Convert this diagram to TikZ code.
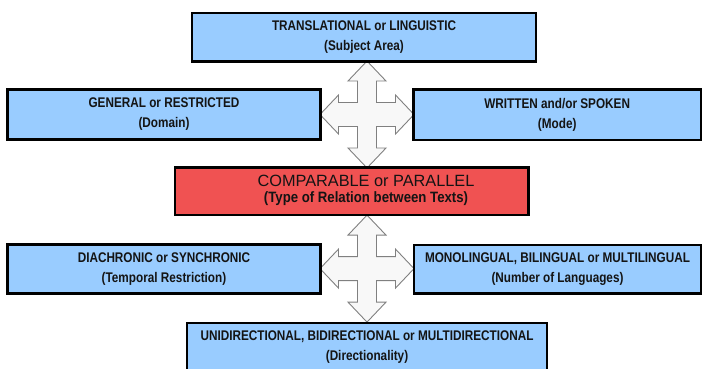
\documentclass[tikz,border=0pt]{standalone}
\usepackage{fontspec}
\setmainfont{Liberation Sans}
\newfontfamily\condfont[FakeStretch=0.84]{Liberation Sans}
\newfontfamily\condfontb[FakeStretch=0.88]{Liberation Sans}
\definecolor{boxblue}{RGB}{153,204,255}
\definecolor{boxred}{RGB}{240,82,82}
\definecolor{inkdark}{RGB}{20,20,20}
\definecolor{arrowfill}{RGB}{248,248,248}
\definecolor{arrowline}{RGB}{128,128,128}
\tikzset{
  basebox/.style={draw=black, line width=2.4pt, rectangle, inner sep=0pt, align=center, text=inkdark},
  bluebox/.style={basebox, fill=boxblue, font=\condfont\bfseries\fontsize{14}{20}\selectfont},
  redbox/.style={basebox, fill=boxred},
  redtext/.style={inner sep=0pt, align=center, text=inkdark, font=\fontsize{16.3}{16}\selectfont},
  arrowstyle/.style={draw=arrowline, fill=arrowfill, line width=0.9pt, line join=miter},
  quadarrow/.pic={
    \path[arrowstyle] (0,-53.5) -- (19,-33.5) -- (9.5,-33.5) -- (9.5,-12) -- (28.5,-12) -- (28.5,-19.5)
      -- (47,0) -- (28.5,19.5) -- (28.5,12) -- (9.5,12) -- (9.5,33.5) -- (19,33.5)
      -- (0,53.5) -- (-19,33.5) -- (-9.5,33.5) -- (-9.5,12) -- (-28.5,12) -- (-28.5,19.5)
      -- (-47,0) -- (-28.5,-19.5) -- (-28.5,-12) -- (-9.5,-12) -- (-9.5,-33.5) -- (-19,-33.5) -- cycle;
  }
}
\begin{document}
\begin{tikzpicture}[x=1pt,y=-1pt]
\useasboundingbox (0,0) rectangle (708,368);
\clip (0,0) rectangle (708,368);
\fill[white] (0,0) rectangle (708,368);
% four-way arrows
\coordinate (upperhub) at (367,114.5);
\coordinate (lowerhub) at (367,268.6);
\pic at (upperhub) {quadarrow};
\pic at (lowerhub) {quadarrow};
% boxes
\node[bluebox, minimum width=344, minimum height=48.5] (subject) at (364,37.2)
  {TRANSLATIONAL or LINGUISTIC\\(Subject Area)};
\node[bluebox, minimum width=313, minimum height=50] (domain) at (164,114.4)
  {GENERAL or RESTRICTED\\(Domain)};
\node[bluebox, minimum width=287.5, minimum height=50.5] (mode) at (557.2,114.6)
  {WRITTEN and/or SPOKEN\\(Mode)};
\node[redbox, minimum width=353.5, minimum height=47.7] (relation) at (351.7,191.2) {};
\node[redtext] (relationtext) at (366,190.6)
  {COMPARABLE or PARALLEL\\{\condfontb\bfseries\fontsize{15}{16}\selectfont (Type of Relation between Texts)}};
\node[bluebox, minimum width=313, minimum height=49] (temporal) at (164,268.8)
  {DIACHRONIC or SYNCHRONIC\\(Temporal Restriction)};
\node[bluebox, minimum width=287, minimum height=48.3] (languages) at (557.5,269.2)
  {MONOLINGUAL, BILINGUAL or MULTILINGUAL\\(Number of Languages)};
\node[bluebox, minimum width=360, minimum height=48] (direction) at (367,346.7)
  {UNIDIRECTIONAL, BIDIRECTIONAL or MULTIDIRECTIONAL\\(Directionality)};
\end{tikzpicture}
\end{document}
